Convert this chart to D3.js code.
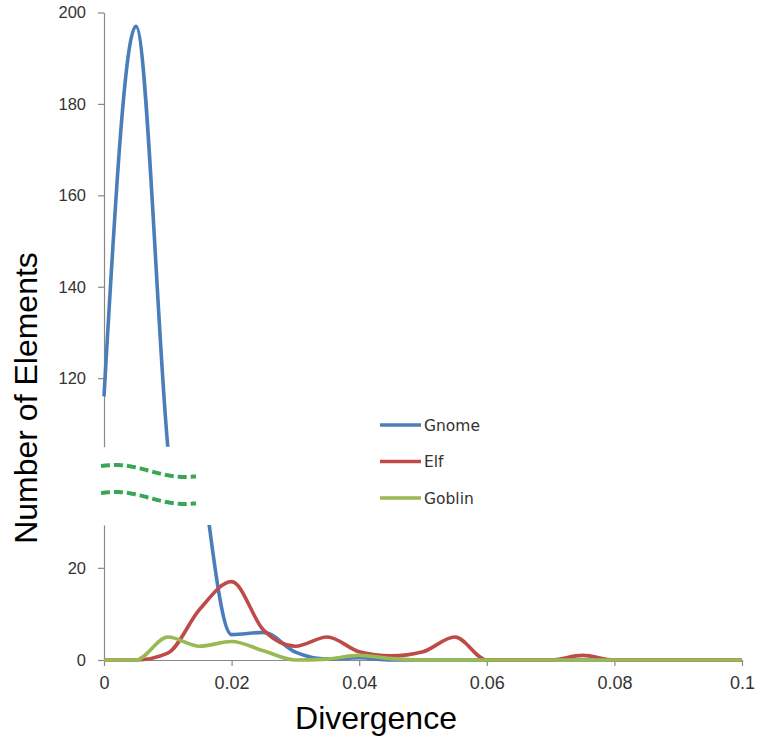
<!DOCTYPE html>
<html><head><meta charset="utf-8">
<script src="https://cdn.jsdelivr.net/npm/d3@7"></script>
<style>body{margin:0;background:#fff}svg{display:block}</style>
</head><body><svg id="c" width="760" height="742"></svg>
<script>
const divergence = [0,0.005,0.01,0.015,0.02,0.025,0.03,0.035,0.04,0.045,0.05,0.055,0.06,0.065,0.07,0.075,0.08,0.085,0.09,0.095,0.1];
const gnome  = [116,197,105,45,5.5,6,1.7,0.2,0.5,0,0,0,0,0,0,0,0,0,0,0,0];
const elf    = [0,0,1.5,11,17,6.5,3,5,1.8,0.9,1.8,5,0,0,0,1,0,0,0,0,0];
const goblin = [0,0,5,3,4,2,0,0.2,1,0.3,0,0,0,0,0,0,0,0,0,0,0];
const seriesNames = ["Gnome","Elf","Goblin"];
const xTicks = [0,0.02,0.04,0.06,0.08,0.1];
const yTicksUpper = [120,140,160,180,200];
const yTicksLower = [0,20];

const colors = ["#4a7ebb","#be4b48","#98b954"];
const series = [gnome, elf, goblin];

const svg = d3.select("#c");
const x = d3.scaleLinear().domain([0,0.1]).range([104,742]);
const yUp = d3.scaleLinear().domain([105,200]).range([446.7,12.5]);
const yLo = d3.scaleLinear().domain([0,29.3]).range([660,525]);

const defs = svg.append("defs");
defs.append("clipPath").attr("id","clipUp").append("rect")
  .attr("x",100).attr("y",0).attr("width",660).attr("height",yUp.range()[0]);
defs.append("clipPath").attr("id","clipLo").append("rect")
  .attr("x",100).attr("y",yLo.range()[1]).attr("width",660).attr("height",yLo.range()[0]-yLo.range()[1]+4);

const fmt = d => d===0 ? "0" : String(+d.toFixed(2));

function styleAxis(g){
  g.selectAll("path.domain").attr("stroke","#888").attr("stroke-width",1.2);
  g.selectAll(".tick line").attr("stroke","#888").attr("stroke-width",1.2);
  g.selectAll(".tick text").attr("fill","#333").attr("font-family","Liberation Sans, Arial, sans-serif");
}
const gUp = svg.append("g").attr("transform","translate(104,0)")
  .call(d3.axisLeft(yUp).tickValues(yTicksUpper).tickSize(6).tickSizeOuter(0).tickPadding(12));
styleAxis(gUp); gUp.selectAll(".tick text").attr("font-size",16.5);
const gLo = svg.append("g").attr("transform","translate(104,0)")
  .call(d3.axisLeft(yLo).tickValues(yTicksLower).tickSize(6).tickSizeOuter(0).tickPadding(12));
styleAxis(gLo); gLo.selectAll(".tick text").attr("font-size",16.5);
const gx = svg.append("g").attr("transform","translate(0,660)")
  .call(d3.axisBottom(x).tickValues(xTicks).tickFormat(fmt).tickSize(6).tickSizeOuter(0).tickPadding(10));
styleAxis(gx); gx.selectAll(".tick text").attr("font-size",18);

// lines
const curve = d3.curveMonotoneX;
[["clipUp",yUp],["clipLo",yLo]].forEach(([clip,ys])=>{
  const g = svg.append("g").attr("clip-path",`url(#${clip})`);
  series.forEach((s,i)=>{
    const line = d3.line().x((d,j)=>x(divergence[j])).y(d=>ys(d)).curve(curve);
    g.append("path").attr("d",line(s)).attr("fill","none")
      .attr("stroke",colors[i]).attr("stroke-width",3.6).attr("stroke-linejoin","round");
  });
});

// axis break markers
const wave = off => d3.range(101,197,1).map(px => [px, off - 6*Math.cos(Math.PI*(px-115)/70)]);
[471,498].forEach(c=>{
  svg.append("path").attr("d",d3.line()(wave(c))).attr("fill","none")
    .attr("stroke","#3aa655").attr("stroke-width",4).attr("stroke-dasharray","9,4");
});

// legend
const lg = svg.append("g");
seriesNames.forEach((n,i)=>{
  const yy = 425 + i*36.5;
  lg.append("line").attr("x1",380).attr("x2",421).attr("y1",yy).attr("y2",yy)
    .attr("stroke",colors[i]).attr("stroke-width",3.6);
  lg.append("text").attr("x",424).attr("y",yy).attr("dy","0.36em")
    .attr("font-family","DejaVu Sans, Verdana, sans-serif").attr("font-size",15.5)
    .attr("fill","#333").text(n);
});

// titles
svg.append("text").attr("x",376).attr("y",729).attr("text-anchor","middle")
  .attr("font-family","Liberation Sans, Arial, sans-serif").attr("font-size",32).attr("fill","#000")
  .text("Divergence");
svg.append("text").attr("transform","translate(37,398) rotate(-90)").attr("text-anchor","middle")
  .attr("font-family","Liberation Sans, Arial, sans-serif").attr("font-size",32).attr("fill","#000")
  .text("Number of Elements");
</script></body></html>
